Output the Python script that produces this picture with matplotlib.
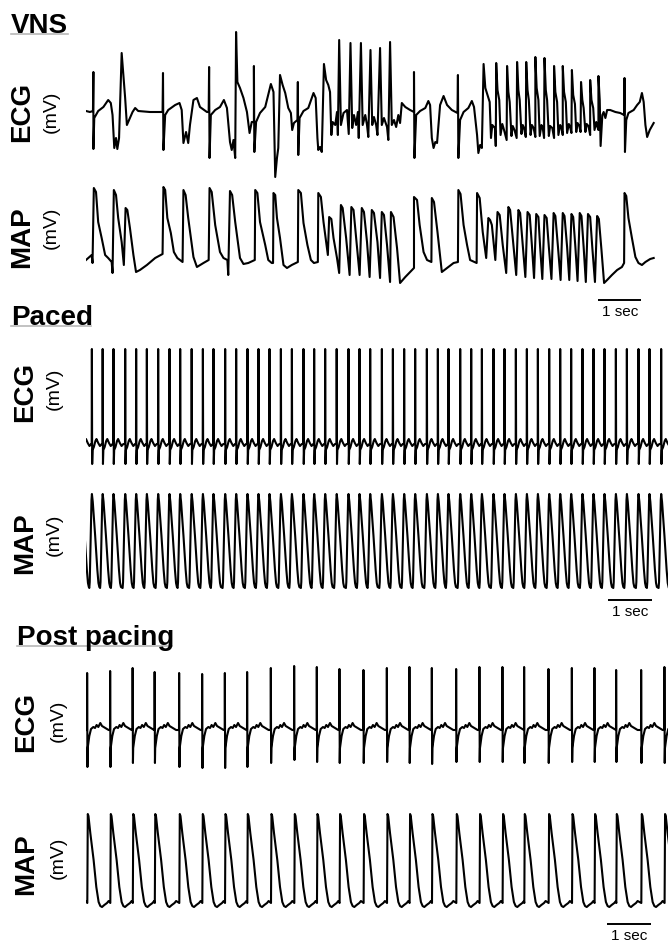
import numpy as np
import matplotlib
matplotlib.use("Agg")
import matplotlib.pyplot as plt
from matplotlib.lines import Line2D

# ---------------- DATA (time in s, amplitude in arbitrary units) ----------------
# VNS: irregular rhythm
vns_ecg_points = [
    (0.00, 1), (0.09, 0), (0.16, 1), (0.17, 40), (0.17, -37), (0.19, -6), (0.28, 1), (0.40, 5),
    (0.51, 12), (0.57, 9), (0.61, -3), (0.65, -36), (0.69, -26), (0.72, -37), (0.76, -26),
    (0.82, 59), (0.86, 37), (0.90, 14), (0.94, -13), (1.01, -6), (1.07, 0), (1.13, 4), (1.20, 1),
    (1.47, 0), (1.76, 0), (1.77, 39), (1.78, -38), (1.82, -3), (1.89, 2), (2.05, 7), (2.15, 9),
    (2.20, 2), (2.24, -31), (2.30, -20), (2.35, -31), (2.39, -13), (2.47, 12), (2.55, 14),
    (2.62, 5), (2.78, 0), (2.82, 0), (2.83, 45), (2.84, -46), (2.87, -3), (2.97, 2), (3.08, 5),
    (3.17, 12), (3.24, 4), (3.31, -30), (3.35, -38), (3.39, -28), (3.43, -46), (3.45, 80),
    (3.48, 30), (3.54, 24), (3.62, 14), (3.70, 0), (3.76, -21), (3.81, -10), (3.86, -10),
    (3.86, 46), (3.87, -40), (3.91, -10), (4.00, -1), (4.12, 5), (4.25, 28), (4.31, 20),
    (4.35, -65), (4.39, -46), (4.42, -36), (4.46, 37), (4.52, 27), (4.58, 19), (4.65, 4),
    (4.71, -1), (4.74, -18), (4.78, -11), (4.86, -8), (4.87, 30), (4.88, -43), (4.91, -6),
    (5.00, 1), (5.11, 4), (5.23, 19), (5.28, 14), (5.32, -26), (5.34, -38), (5.38, -35),
    (5.42, -40), (5.47, 48), (5.52, 32), (5.57, 27), (5.61, 20), (5.64, -23), (5.67, -10),
    (5.73, -13), (5.77, 0), (5.79, -23), (5.82, 72), (5.86, -13), (5.92, -1), (6.00, 2),
    (6.04, -22), (6.08, 69), (6.12, -16), (6.16, -3), (6.21, -13), (6.25, 0), (6.27, -26),
    (6.32, 69), (6.36, -13), (6.42, -3), (6.46, -13), (6.49, -25), (6.54, 62), (6.58, -13),
    (6.62, -5), (6.67, -13), (6.70, -23), (6.76, 64), (6.80, -13), (6.85, -6), (6.92, -15),
    (6.95, -28), (6.99, 70), (7.03, -13), (7.08, -8), (7.13, -15), (7.18, -3), (7.22, -11),
    (7.26, 9), (7.34, 5), (7.45, 2), (7.54, 0), (7.54, 40), (7.55, -46), (7.59, -3), (7.68, 1),
    (7.80, 4), (7.87, 11), (7.91, 7), (7.95, -26), (7.99, -36), (8.03, -30), (8.07, -31),
    (8.14, 7), (8.22, 16), (8.30, 7), (8.41, 2), (8.54, -1), (8.55, 37), (8.56, -46), (8.60, -8),
    (8.68, 0), (8.79, 4), (8.87, 11), (8.92, 5), (8.99, -23), (9.02, -41), (9.06, -33),
    (9.10, -36), (9.14, 48), (9.18, 24), (9.23, 17), (9.28, 10), (9.31, -26), (9.34, -13),
    (9.40, -16), (9.42, -34), (9.43, 49), (9.46, 22), (9.50, 12), (9.53, -23), (9.57, -12),
    (9.61, -18), (9.67, -28), (9.68, 46), (9.71, 20), (9.74, 10), (9.78, -24), (9.81, -14),
    (9.85, -18), (9.90, -26), (9.91, 50), (9.94, 22), (9.97, 12), (10.01, -22), (10.04, -13),
    (10.07, -16), (10.11, -25), (10.12, 50), (10.15, 22), (10.18, 12), (10.22, -23),
    (10.25, -13), (10.29, -16), (10.33, -25), (10.33, 55), (10.36, 24), (10.40, 12),
    (10.43, -24), (10.47, -13), (10.50, -16), (10.53, -26), (10.54, 54), (10.57, 22),
    (10.60, 12), (10.64, -24), (10.67, -14), (10.72, -16), (10.76, -26), (10.76, 46),
    (10.79, 20), (10.83, 10), (10.86, -23), (10.90, -13), (10.93, -16), (10.96, -23),
    (10.96, 46), (10.99, 20), (11.03, 10), (11.06, -21), (11.10, -12), (11.13, -15),
    (11.16, -21), (11.17, 42), (11.20, 17), (11.24, 8), (11.27, -20), (11.30, -11),
    (11.34, -14), (11.37, -20), (11.38, 30), (11.41, 12), (11.44, 4), (11.48, -20),
    (11.51, -12), (11.55, -14), (11.59, -23), (11.59, 32), (11.62, 12), (11.66, 4),
    (11.69, -18), (11.73, -10), (11.75, -14), (11.78, -18), (11.78, 36), (11.81, 12),
    (11.83, -34), (11.87, -3), (11.90, 0), (11.94, -6), (11.98, 2), (12.05, 2), (12.17, 0),
    (12.28, -1), (12.37, -3), (12.38, 34), (12.39, -40), (12.42, -8), (12.47, -1), (12.59, 2),
    (12.67, 7), (12.73, 10), (12.78, 19), (12.82, 10), (12.86, -13), (12.90, -25),
    (12.96, -18), (13.05, -11),
]
vns_map_points = [
    (0.00, 25), (0.13, 30), (0.15, 22), (0.18, 97), (0.23, 93), (0.28, 63), (0.36, 47),
    (0.44, 30), (0.51, 27), (0.59, 23), (0.61, 12), (0.64, 95), (0.69, 90), (0.74, 67),
    (0.82, 43), (0.87, 20), (0.91, 77), (0.95, 75), (1.01, 57), (1.09, 30), (1.15, 13),
    (1.24, 15), (1.40, 20), (1.59, 27), (1.76, 31), (1.78, 98), (1.82, 95), (1.87, 67),
    (1.95, 52), (2.02, 33), (2.10, 27), (2.22, 23), (2.24, 95), (2.29, 90), (2.35, 67),
    (2.47, 28), (2.55, 18), (2.70, 22), (2.82, 25), (2.84, 97), (2.89, 93), (2.97, 60),
    (3.08, 33), (3.16, 27), (3.25, 25), (3.27, 10), (3.31, 94), (3.36, 90), (3.43, 63),
    (3.54, 27), (3.62, 21), (3.73, 22), (3.88, 25), (3.89, 95), (3.94, 92), (4.00, 63),
    (4.12, 40), (4.19, 25), (4.27, 22), (4.30, 22), (4.31, 92), (4.35, 90), (4.39, 67),
    (4.46, 47), (4.54, 20), (4.62, 17), (4.73, 20), (4.87, 23), (4.88, 95), (4.94, 92),
    (5.00, 62), (5.09, 40), (5.17, 25), (5.24, 22), (5.33, 23), (5.34, 92), (5.40, 88),
    (5.46, 63), (5.52, 43), (5.56, 30), (5.59, 68), (5.64, 66), (5.69, 47), (5.77, 27),
    (5.82, 12), (5.86, 80), (5.90, 77), (5.98, 47), (6.06, 10), (6.10, 78), (6.15, 75),
    (6.21, 47), (6.29, 10), (6.34, 77), (6.39, 73), (6.46, 43), (6.52, 8), (6.57, 75),
    (6.62, 72), (6.70, 43), (6.76, 7), (6.80, 73), (6.85, 70), (6.92, 40), (6.99, 3),
    (7.01, 73), (7.07, 68), (7.15, 37), (7.22, 2), (7.34, 8), (7.45, 13), (7.54, 17),
    (7.54, 88), (7.61, 85), (7.67, 60), (7.76, 33), (7.84, 25), (7.94, 23), (7.95, 87),
    (8.00, 83), (8.08, 53), (8.18, 13), (8.30, 17), (8.45, 22), (8.55, 23), (8.56, 95),
    (8.61, 91), (8.68, 60), (8.76, 40), (8.83, 25), (8.98, 22), (8.99, 92), (9.05, 87),
    (9.12, 53), (9.20, 27), (9.25, 67), (9.29, 65), (9.33, 60), (9.41, 25), (9.46, 73),
    (9.51, 70), (9.58, 40), (9.66, 12), (9.71, 78), (9.75, 75), (9.82, 43), (9.89, 10),
    (9.94, 75), (9.98, 72), (10.04, 40), (10.10, 8), (10.15, 73), (10.20, 70), (10.25, 40),
    (10.30, 7), (10.35, 71), (10.40, 68), (10.44, 38), (10.49, 6), (10.54, 70), (10.59, 67),
    (10.64, 38), (10.70, 6), (10.75, 72), (10.79, 69), (10.85, 38), (10.91, 5), (10.96, 72),
    (11.00, 69), (11.06, 38), (11.11, 5), (11.16, 71), (11.20, 68), (11.25, 38), (11.30, 4),
    (11.35, 72), (11.39, 69), (11.44, 38), (11.49, 3), (11.54, 71), (11.59, 68), (11.64, 37),
    (11.70, 3), (11.75, 69), (11.79, 66), (11.85, 35), (11.91, 2), (11.98, 5), (12.09, 10),
    (12.21, 15), (12.32, 18), (12.37, 22), (12.38, 92), (12.42, 89), (12.47, 67),
    (12.55, 47), (12.63, 28), (12.70, 22), (12.78, 20), (12.86, 23), (12.97, 26), (13.05, 27),
]

# Paced: beat (stimulus) times, s
paced_beats = [-0.110, 0.131, 0.379, 0.628, 0.897, 1.149, 1.395, 1.655, 1.915, 2.161, 2.425,
               2.683, 2.926, 3.195, 3.448, 3.708, 3.961, 4.214, 4.476, 4.729, 4.995, 5.241,
               5.494, 5.759, 6.030, 6.283, 6.529, 6.798, 7.051, 7.310, 7.563, 7.832, 8.085,
               8.329, 8.598, 8.851, 9.097, 9.363, 9.616, 9.878, 10.131, 10.384, 10.644,
               10.897, 11.149, 11.409, 11.662, 11.915, 12.177, 12.430, 12.697, 12.949, 13.218]
# single-beat shapes (time after beat, amplitude)
paced_ecg_shape_t = [0.000, 0.004, 0.011, 0.020, 0.050, 0.085, 0.110, 0.150, 0.190, 0.230]
paced_ecg_shape_v = [0, 95, -20, -6, -3, 3, 5, 1, -2, 0]
paced_map_shape_t = [-0.055, -0.045, -0.025, -0.005, 0.005, 0.025, 0.080, 0.130, 0.155, 0.175]
paced_map_shape_v = [0, 6, 45, 88, 94, 86, 52, 18, 5, 1]

# Post pacing
post_beats = [-0.500, 0.023, 0.552, 1.069, 1.575, 2.138, 2.667, 3.189, 3.701, 4.246, 4.782,
              5.303, 5.823, 6.375, 6.913, 7.432, 7.947, 8.506, 9.041, 9.570, 10.069, 10.628,
              11.166, 11.685, 12.184, 12.759, 13.294]
post_r_peak = [55, 55, 57, 60, 56, 55, 54, 55, 56, 60, 62, 61, 59, 58, 60, 61, 60, 59, 61, 61,
               61, 59, 60, 60, 58, 58, 61]
post_s_trough = [-39, -39, -39, -35, -35, -39, -40, -40, -39, -35, -32, -34, -35, -35, -34, -35,
                 -36, -34, -34, -34, -35, -35, -34, -34, -34, -35, -35]
post_ecg_shape_t = [0.000, 0.003, 0.010, 0.016, 0.053, 0.092, 0.145, 0.184, 0.221, 0.260,
                    0.306, 0.345, 0.421, 0.497]
post_ecg_shape_v = [-2, None, None, -20, -8, -1, 1, 0, 3, 1, 5, 2, 0, -2]
post_map_shape_t = [0.007, 0.018, 0.034, 0.076, 0.152, 0.214, 0.267, 0.306, 0.345, 0.398,
                    0.460, 0.497]
post_map_shape_v = [4, 93, 91, 74, 47, 20, 5, 1, 0, 2, 4, 6]

SCALE_BAR_S = 1.0

# ---------------- LAYOUT ----------------
W, H = 668, 947
PX_PER_S = 43.5
X_LEFT = 86
FONT = ["Liberation Sans", "DejaVu Sans"]

fig = plt.figure(figsize=(W / 100, H / 100), dpi=100)


def trace_axes(top, bottom, base):
    ax = fig.add_axes([X_LEFT / W, 1 - bottom / H, (W - X_LEFT) / W, (bottom - top) / H])
    ax.set_xlim(0, (W - X_LEFT) / PX_PER_S)
    ax.set_ylim(base - bottom, base - top)
    ax.axis("off")
    return ax


def beat_train(beats, st, sv, peaks=None, troughs=None):
    ts, vs = [], []
    for i, b in enumerate(beats):
        lim = beats[i + 1] + st[0] if i + 1 < len(beats) else np.inf
        vals = list(sv)
        if peaks is not None:
            vals[1] = peaks[i]
            vals[2] = troughs[i]
        for dt, v in zip(st, vals):
            if b + dt < lim:
                ts.append(b + dt)
                vs.append(v)
    return np.array(ts), np.array(vs)


def ftext(x, y, s, **kw):
    fig.text(x / W, 1 - y / H, s, family=FONT, **kw)


def underline(x0, x1, y):
    fig.add_artist(Line2D([x0 / W, x1 / W], [1 - y / H, 1 - y / H], color="#b8b8b8", lw=1.2))


def scale_bar(ax, t0, yv):
    ax.plot([t0, t0 + SCALE_BAR_S], [yv, yv], color="black", lw=1.4, clip_on=False,
            solid_capstyle="butt")
    ax.text(t0 + SCALE_BAR_S / 2, yv - 5, "1 sec", ha="center", va="top", fontsize=11,
            family=FONT)


LW = 1.5
# VNS
ax1 = trace_axes(20, 190, 112)
t, v = np.array(vns_ecg_points).T
ax1.plot(t, v, color="black", lw=LW)
ax2 = trace_axes(175, 300, 285)
t, v = np.array(vns_map_points).T
ax2.plot(t, v, color="black", lw=LW)
scale_bar(ax2, 11.77, -15)

# Paced
ax3 = trace_axes(335, 475, 444)
ax3.plot(*beat_train(paced_beats, paced_ecg_shape_t, paced_ecg_shape_v), color="black", lw=LW)
ax4 = trace_axes(480, 600, 588)
ax4.plot(*beat_train(paced_beats, paced_map_shape_t, paced_map_shape_v), color="black", lw=LW)
scale_bar(ax4, 12.0, -12)

# Post pacing
ax5 = trace_axes(655, 780, 728)
ax5.plot(*beat_train(post_beats, post_ecg_shape_t, post_ecg_shape_v, post_r_peak, post_s_trough),
         color="black", lw=LW)
ax6 = trace_axes(795, 930, 907)
ax6.plot(*beat_train(post_beats, post_map_shape_t, post_map_shape_v), color="black", lw=LW)
scale_bar(ax6, 11.98, -17)

# Titles
ftext(11, 33, "VNS", fontsize=20, fontweight="bold", ha="left", va="baseline")
underline(11, 68, 34)
ftext(11, 325, "Paced", fontsize=20, fontweight="bold", ha="left", va="baseline")
underline(11, 91, 326)
ftext(17, 645, "Post pacing", fontsize=20, fontweight="bold", ha="left", va="baseline")
underline(17, 172, 646)

# Row labels
for (xl, yl, xm, ym, name) in [(22.5, 112, 51, 112, "ECG"), (22.5, 237, 51, 228, "MAP"),
                              (25, 392, 54, 389, "ECG"), (25, 543, 54, 535, "MAP"),
                              (26, 722, 58, 721, "ECG"), (26, 864, 58, 858, "MAP")]:
    ftext(xl, yl, name, fontsize=20, fontweight="bold", rotation=90, ha="center", va="center")
    ftext(xm, ym, "(mV)", fontsize=14, rotation=90, ha="center", va="center")

fig.savefig("out.png", dpi=100)
